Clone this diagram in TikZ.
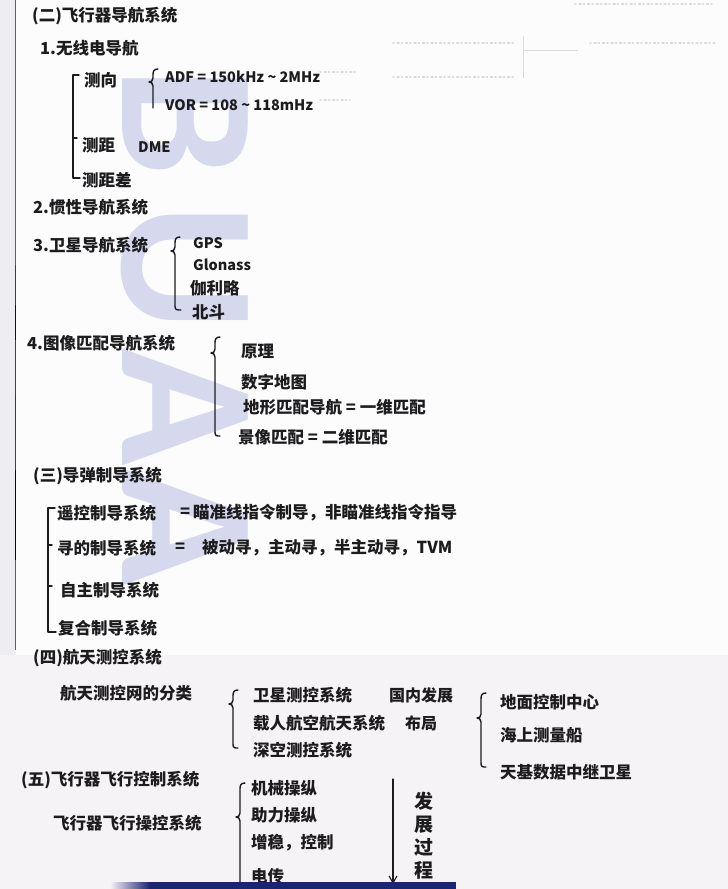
\documentclass[tikz,border=0pt]{standalone}
\usepackage{fontspec}
\newfontfamily\notefont{Noto Sans CJK SC}
\newfontfamily\markfont{Carlito}
\usetikzlibrary{arrows.meta}
\definecolor{ink}{HTML}{1C1C1E}
\definecolor{paper}{HTML}{FCFCFD}
\definecolor{paperlow}{HTML}{F6F3F6}
\definecolor{mark}{HTML}{D6D9EE}
\definecolor{bleed}{HTML}{DEDAE0}
\definecolor{stripbg}{HTML}{EEEEF2}
\definecolor{navy}{HTML}{1B2470}
\tikzset{
  inkline/.style={draw=ink, line width=1.4pt, line cap=round, line join=round},
  note/.style={font=\notefont\bfseries\fontsize{16.5}{20}\selectfont, text=ink, inner sep=0pt, anchor=west},
  latin/.style={note, font=\notefont\bfseries\fontsize{14.5}{18}\selectfont},
  wm/.style={font=\markfont\bfseries\fontsize{194}{194}\selectfont, text=mark, rotate=-90, anchor=base west, inner sep=0pt},
  bleedline/.style={draw=bleed, line width=1.6pt, dash pattern=on 1pt off 3.1pt on 2pt off 2.4pt, line cap=round},
  bleedrule/.style={draw=bleed, line width=0.8pt},
}
% hand-drawn curly brace: x, top, bump, bottom, bottom hook length
\newcommand\hwbrace[5]{%
  \draw[inkline] (#1+5,#2) .. controls (#1+1,#2) and (#1,#2+2) .. (#1,#2+6)
    -- (#1,#3-4) .. controls (#1,#3-1) and (#1-2,#3) .. (#1-4,#3)
    .. controls (#1-2,#3) and (#1,#3+1) .. (#1,#3+4)
    -- (#1,#4-4) .. controls (#1,#4) and (#1+#5*0.3,#4) .. (#1+#5,#4);}
\begin{document}
\begin{tikzpicture}[x=1pt,y=-1pt]
\useasboundingbox (0,0) rectangle (728,889);
% paper
\fill[paper] (0,0) rectangle (728,889);
\fill[paperlow] (0,655) rectangle (728,889);
% binding edge on the left
\fill[stripbg] (0,0) rectangle (15,655);
\draw[line width=1.6pt, color=gray!70!blue] (15.5,0) -- (15.5,150);
\draw[line width=1.6pt, color=blue!30!gray] (15.5,150) -- (15.5,265);
\draw[line width=1.6pt, color=red!80!black] (15.5,265) -- (15.5,305);
\draw[line width=1.6pt, color=blue!60!black] (15.5,305) -- (15.5,340);
\draw[line width=1.6pt, color=red!85!black] (15.5,340) -- (15.5,395);
\draw[line width=1.6pt, color=blue!70!gray] (15.5,395) -- (15.5,440);
\draw[line width=1.6pt, color=red!85!black] (15.5,440) -- (15.5,470);
\draw[line width=1.6pt, color=black!75!blue] (15.5,470) -- (15.5,560);
\draw[line width=1.6pt, color=red!60!gray] (15.5,560) -- (15.5,650);
% watermark letters
\node[wm] (wmB) at (122,67) {B};
\node[wm] (wmU) at (122,204) {U};
\node[wm] (wmA) at (122,348) {A};
\node[wm] (wmA2) at (122,468) {A};
% faint show-through from the reverse side
\coordinate (bkTop) at (523,36);
\coordinate (bkBot) at (523,78);
\coordinate (bkMid) at (523,50);
\coordinate (bkEnd) at (578,50);
\draw[bleedline] (393,43) -- (515,43);
\draw[bleedline] (393,77) -- (515,77);
\draw[bleedline] (590,43) -- (715,43);
\draw[bleedline] (575,4) -- (715,4);
\draw[bleedline] (320,72) -- (358,72);
\draw[bleedline] (320,100) -- (350,100);
\draw[bleedrule] (bkTop) -- (bkBot);
\draw[bleedrule] (bkMid) -- (bkEnd);

% ---- (二) navigation systems
\node[note] (h2) at (32,16) {(二)飞行器导航系统};
\node[note] (n1) at (40,48) {1.无线电导航};
\draw[inkline] (79,75) -- (73,75) -- (73,178) -- (80,178);
\draw[inkline] (73,138) -- (77,138);
\node[note] (cx) at (84,80) {测向};
\hwbrace{153}{69}{82}{108}{0}
\node[latin] (adf) at (165,77) {ADF = 150kHz \textasciitilde{} 2MHz};
\node[latin] (vor) at (165,105) {VOR = 108 \textasciitilde{} 118mHz};
\node[note] (cj) at (82,145) {测距};
\node[latin] (dme) at (138,147) {DME};
\node[note] (cjc) at (82,180) {测距差};
\node[note] (n2) at (33,207) {2.惯性导航系统};
\node[note] (n3) at (33,245) {3.卫星导航系统};
\hwbrace{175}{237}{251}{310}{6}
\node[latin] (gps) at (193,243) {GPS};
\node[latin] (glo) at (193,265) {Glonass};
\node[note] (gal) at (190,288) {伽利略};
\node[note] (bd) at (192,312) {北斗};
\node[note] (n4) at (27,343) {4.图像匹配导航系统};
\hwbrace{215}{337}{353}{436}{5}
\node[note] (yl) at (241,352) {原理};
\node[note] (sz) at (241,382) {数字地图};
\node[note] (dx) at (243,407) {地形匹配导航 = 一维匹配};
\node[note] (jx) at (238,437) {景像匹配 = 二维匹配};

% ---- (三) missile guidance
\node[note] (h3) at (33,476) {(三)导弹制导系统};
\draw[inkline] (55,508) -- (48,508) -- (48,632) -- (56,632);
\draw[inkline] (48,545) -- (52,545);
\draw[inkline] (48,586) -- (52,586);
\node[note] (yk) at (57,513) {遥控制导系统};
\node[note] (eq1) at (180,513) {=};
\node[note] (ykr) at (193,513) {瞄准线指令制导，非瞄准线指令指导};
\node[note] (xd) at (57,548) {寻的制导系统};
\node[note] (eq2) at (175,548) {=};
\node[note] (xdr) at (202,548) {被动寻，主动寻，半主动寻，TVM};
\node[note] (zz) at (60,590) {自主制导系统};
\node[note] (fh) at (58,628) {复合制导系统};

% ---- (四) space tracking and control
\node[note] (h4) at (33,658) {(四)航天测控系统};
\node[note] (fl) at (60,693) {航天测控网的分类};
\hwbrace{233}{690}{704}{748}{5}
\node[note] (ws) at (253,695) {卫星测控系统};
\node[note] (zr) at (253,723) {载人航空航天系统};
\node[note] (sk) at (253,750) {深空测控系统};
\node[note, anchor=center, align=center, font=\notefont\bfseries\fontsize{16}{28}\selectfont] (gn) at (421,709) {国内发展\\布局};
\hwbrace{481}{693}{718}{767}{5}
\node[note] (dm) at (500,702) {地面控制中心};
\node[note] (hs) at (500,735) {海上测量船};
\node[note] (tj) at (500,772) {天基数据中继卫星};

% ---- (五) flight control
\node[note] (h5) at (21,780) {(五)飞行器飞行控制系统};
\node[note] (cz) at (53,823) {飞行器飞行操控系统};
\hwbrace{240}{783}{817}{886}{4}
\node[note] (jx1) at (251,788) {机械操纵};
\node[note] (zl) at (251,815) {助力操纵};
\node[note] (zw) at (251,843) {增稳，控制};
\node[note] (dc) at (251,876) {电传};
\coordinate (arrTop) at (393,779);
\coordinate (arrBot) at (393,884);
\draw[inkline, line width=1.1pt, -{Straight Barb[length=7pt,width=8pt]}] (arrTop) -- (arrBot);
\node[note, anchor=center, align=center, font=\notefont\bfseries\fontsize{19}{23}\selectfont] (fz) at (424,836) {发\\展\\过\\程};

% page edge at the bottom
\shade[left color=paperlow, right color=navy] (110,882) rectangle (150,889);
\fill[navy] (150,882) rectangle (456,889);
\end{tikzpicture}
\end{document}
